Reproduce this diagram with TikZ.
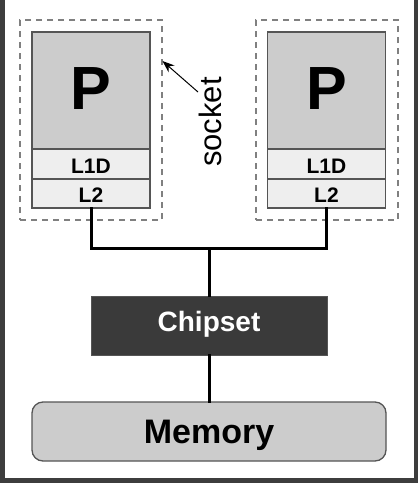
\documentclass[tikz,border=0pt]{standalone}
\usepackage{fontspec}
\setmainfont{Liberation Sans}
\usetikzlibrary{arrows.meta}
\definecolor{frame}{HTML}{3D3D3D}
\definecolor{pgray}{HTML}{CCCCCC}
\definecolor{cgray}{HTML}{EEEEEE}
\definecolor{edge}{HTML}{555555}
\definecolor{dash}{HTML}{808080}
\definecolor{chip}{HTML}{3A3A3A}
\begin{document}
\begin{tikzpicture}[x=1pt,y=-1pt,
  box/.style={draw=edge,line width=1.3pt,inner sep=0pt,outer sep=0pt},
  sockbox/.style={draw=dash,line width=1.3pt,dash pattern=on 6pt off 5pt,inner sep=0pt,outer sep=0pt,minimum width=142pt,minimum height=200pt},
  pbox/.style={box,fill=pgray,minimum width=118pt,minimum height=117pt},
  cbox/.style={box,fill=cgray,minimum width=118pt},
  lbl/.style={anchor=base,inner sep=0pt,font=\bfseries},
  cachelbl/.style={lbl,font=\bfseries\fontsize{21}{21}\selectfont},
  plbl/.style={lbl,font=\bfseries\fontsize{61}{61}\selectfont},
  bus/.style={line width=3pt,line cap=rect}
]
\useasboundingbox (0,0) rectangle (418,483);
\fill[white] (0,0) rectangle (418,483);
% outer frame
\fill[frame] (0,0) rectangle (4.5,483);
\fill[frame] (413.5,0) rectangle (418,483);
\fill[frame] (0,478) rectangle (418,483);

% left socket
\node[sockbox] (sockL) at (91,120) {};
\node[pbox] (PL) at (91,90.5) {};
\node[cbox,minimum height=30pt] (L1L) at (91,164) {};
\node[cbox,minimum height=29pt] (L2L) at (91,193.5) {};
\node[plbl] (tPL) at (91,109) {P};
\node[cachelbl] (tL1L) at (91,173.5) {L1D};
\node[cachelbl] (tL2L) at (91,202.5) {L2};

% right socket
\node[sockbox] (sockR) at (327,120) {};
\node[pbox] (PR) at (326.5,90.5) {};
\node[cbox,minimum height=30pt] (L1R) at (326.5,164) {};
\node[cbox,minimum height=29pt] (L2R) at (326.5,193.5) {};
\node[plbl] (tPR) at (326.5,109) {P};
\node[cachelbl] (tL1R) at (326.5,173.5) {L1D};
\node[cachelbl] (tL2R) at (326.5,202.5) {L2};

% socket label and arrow
\node[rotate=90,inner sep=0pt,font=\fontsize{31}{31}\selectfont] (socklbl) at (210,122) {socket};
\coordinate (arrS) at (198,92);
\coordinate (arrE) at (162.5,61);
\draw[line width=1pt,-{Stealth[length=12pt,width=9pt]}] (arrS) -- (arrE);

% chipset and memory
\node[draw=edge,line width=1pt,fill=chip,minimum width=236pt,minimum height=59pt,inner sep=0pt] (chip) at (209,325.5) {};
\node[lbl,text=white,font=\bfseries\fontsize{28}{28}\selectfont] (tchip) at (209,331.5) {Chipset};
\node[draw=edge,line width=1.3pt,fill=pgray,rounded corners=11pt,minimum width=354pt,minimum height=59pt,inner sep=0pt] (mem) at (209,431.5) {};
\node[lbl,font=\bfseries\fontsize{34}{34}\selectfont] (tmem) at (209,443.5) {Memory};

% bus
\coordinate (bus) at (209,248);
\draw[bus] (L2L.south) -- (L2L.south |- bus) -- (L2R.south |- bus) -- (L2R.south);
\draw[bus] (bus) -- (chip.north);
\draw[bus] (chip.south) -- (mem.north);
\end{tikzpicture}
\end{document}
